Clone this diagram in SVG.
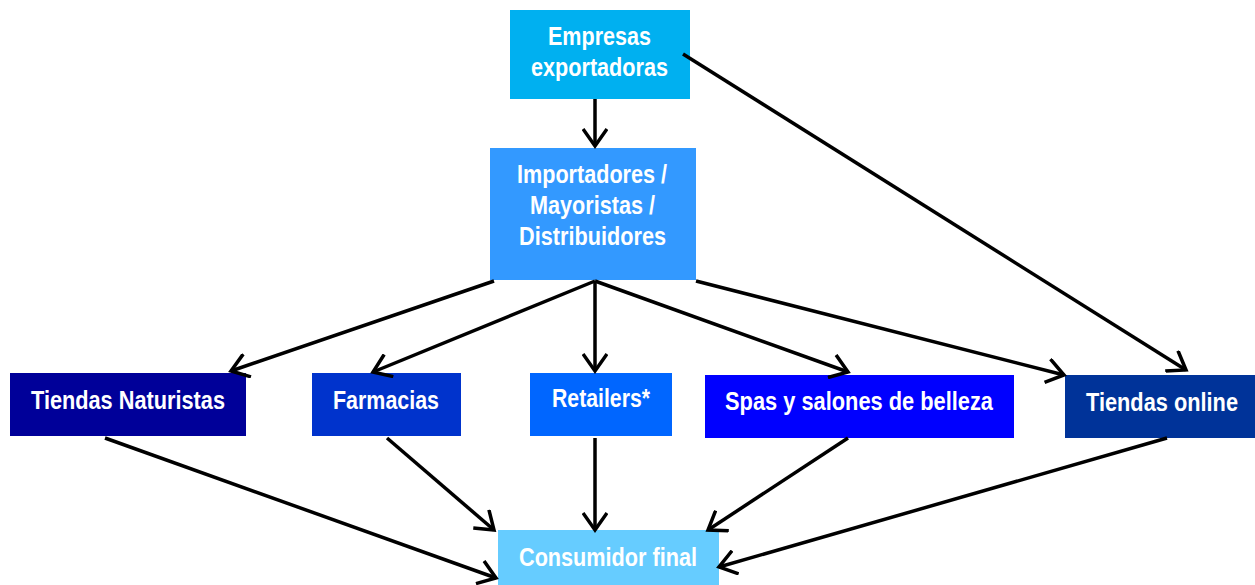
<svg xmlns="http://www.w3.org/2000/svg" width="1255" height="585" viewBox="0 0 1255 585">
<style>
text{font-family:"Liberation Sans Narrow","Arial Narrow","Liberation Sans",sans-serif;font-weight:bold;font-size:26px;fill:#fff;text-anchor:middle}
.c line{stroke:#000;stroke-width:3.5;marker-end:url(#ah)}
</style>
<defs>
<marker id="ah" markerUnits="userSpaceOnUse" markerWidth="22" markerHeight="26" refX="18" refY="13" orient="auto" viewBox="0 0 22 26">
<path d="M1,1 L18,13 L1,25" fill="none" stroke="#000" stroke-width="3.5"/>
</marker>
</defs>
<rect width="1255" height="585" fill="#fff"/>
<g id="empresas"><rect x="510" y="10" width="180" height="89" fill="#00B0F0"/><text x="599.5" y="45" textLength="103" lengthAdjust="spacingAndGlyphs">Empresas</text><text x="599.5" y="76" textLength="137" lengthAdjust="spacingAndGlyphs">exportadoras</text></g>
<g id="importadores"><rect x="490" y="148" width="206" height="132" fill="#3399FF"/><text x="592" y="183" textLength="150" lengthAdjust="spacingAndGlyphs">Importadores /</text><text x="592.5" y="214" textLength="125" lengthAdjust="spacingAndGlyphs">Mayoristas /</text><text x="592.5" y="245" textLength="147" lengthAdjust="spacingAndGlyphs">Distribuidores</text></g>
<g id="naturistas"><rect x="10" y="373" width="236" height="63" fill="#000099"/><text x="128" y="409" textLength="194" lengthAdjust="spacingAndGlyphs">Tiendas Naturistas</text></g>
<g id="farmacias"><rect x="312" y="373" width="149" height="63" fill="#0033CC"/><text x="386" y="409" textLength="106" lengthAdjust="spacingAndGlyphs">Farmacias</text></g>
<g id="retailers"><rect x="530" y="373" width="142" height="63" fill="#0066FF"/><text x="601" y="407" textLength="98" lengthAdjust="spacingAndGlyphs">Retailers*</text></g>
<g id="spas"><rect x="705" y="375" width="309" height="63" fill="#0000FF"/><text x="859" y="410" textLength="268" lengthAdjust="spacingAndGlyphs">Spas y salones de belleza</text></g>
<g id="online"><rect x="1065" y="375" width="190" height="63" fill="#003399"/><text x="1162" y="411" textLength="152" lengthAdjust="spacingAndGlyphs">Tiendas online</text></g>
<g id="consumidor"><rect x="498" y="530" width="221" height="55" fill="#66CCFF"/><text x="608" y="566" textLength="178" lengthAdjust="spacingAndGlyphs">Consumidor final</text></g>
<g class="c" id="connectors">
<line x1="595" y1="99" x2="595" y2="146"/>
<line x1="683" y1="54" x2="1186" y2="370"/>
<line x1="494" y1="281" x2="231" y2="371"/>
<line x1="595" y1="281" x2="373" y2="372"/>
<line x1="595" y1="281" x2="595" y2="371"/>
<line x1="595" y1="281" x2="848" y2="372"/>
<line x1="696" y1="281" x2="1064" y2="375"/>
<line x1="105" y1="438" x2="496" y2="578"/>
<line x1="387" y1="438" x2="494" y2="530"/>
<line x1="595" y1="438" x2="595" y2="530"/>
<line x1="848" y1="438" x2="708" y2="530"/>
<line x1="1167" y1="438" x2="719" y2="567"/>
</g>
</svg>
